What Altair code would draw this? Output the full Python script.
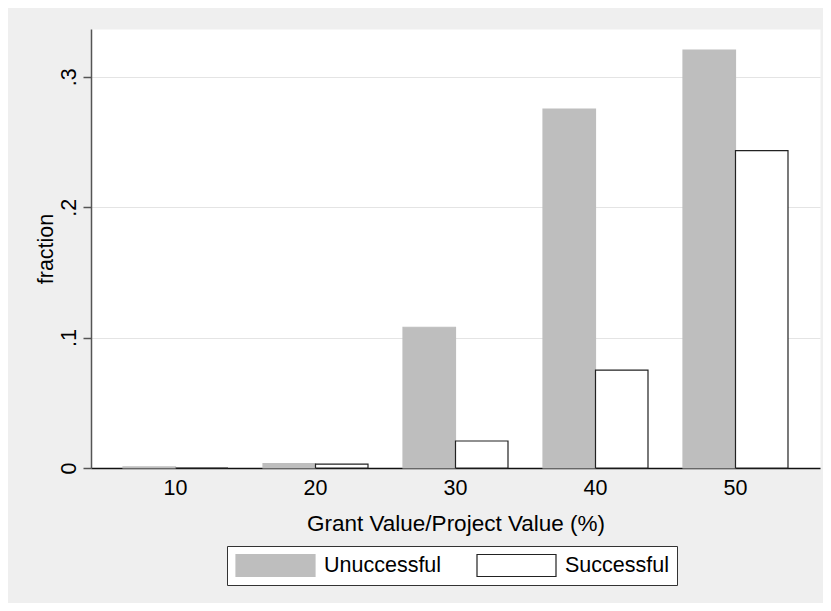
import altair as alt
import pandas as pd

# ---- data ----
categories = ["10", "20", "30", "40", "50"]
groups = ["Unuccessful", "Successful"]
unsuccessful = [0.0008, 0.0033, 0.1079, 0.2752, 0.3205]
successful = [0.0, 0.0030, 0.0207, 0.0751, 0.2433]
y_ticks = [0, 0.1, 0.2, 0.3]

rows = []
for c, u, s in zip(categories, unsuccessful, successful):
    rows.append({"cat": c, "group": groups[0], "value": u})
    rows.append({"cat": c, "group": groups[1], "value": s})
df = pd.DataFrame(rows)

FONT = "Liberation Sans"
FS = 21.5

legend = alt.Legend(
    title=None,
    orient="none",
    legendX=136,
    legendY=517,
    direction="horizontal",
    symbolType="M-1,-0.2785H1V0.2785H-1Z",
    symbolSize=6241,
    symbolStrokeWidth=1.2,
    clipHeight=23,
    labelFont=FONT,
    labelFontSize=FS,
    labelColor="#000000",
    labelOffset=8,
    columnPadding=34,
    padding=8,
    strokeColor="#333333",
    fillColor="#ffffff",
)

chart = alt.Chart(df).mark_bar(strokeWidth=1.2).encode(
    x=alt.X(
        "cat:N",
        sort=categories,
        scale=alt.Scale(paddingInner=0.25, paddingOuter=0.2286),
        axis=alt.Axis(
            title="Grant Value/Project Value (%)",
            labelAngle=0,
            ticks=False,
            tickSize=0,
            domainColor="#111111",
            domainWidth=1.5,
            labelBaseline="alphabetic",
            labelPadding=26,
            labelFont=FONT,
            labelFontSize=FS,
            labelColor="#000000",
            titleFont=FONT,
            titleFontSize=22.5,
            titleFontWeight="normal",
            titleColor="#000000",
            titleBaseline="alphabetic",
            titleY=62,
            grid=False,
        ),
    ),
    xOffset=alt.XOffset(
        "group:N", sort=groups, scale=alt.Scale(paddingInner=0, paddingOuter=0)
    ),
    y=alt.Y(
        "value:Q",
        scale=alt.Scale(domain=[0, 0.3366], nice=False, zero=True),
        axis=alt.Axis(
            title="fraction",
            values=y_ticks,
            labelExpr="datum.value == 0 ? '0' : replace(format(datum.value, '.1f'), '0.', '.')",
            labelAngle=270,
            labelAlign="center",
            labelBaseline="alphabetic",
            labelPadding=8,
            tickSize=8,
            tickColor="#555555",
            tickWidth=1.5,
            domainColor="#555555",
            domainWidth=1.5,
            labelFont=FONT,
            labelFontSize=FS,
            labelColor="#000000",
            titleFont=FONT,
            titleFontSize=FS,
            titleFontWeight="normal",
            titleColor="#000000",
            titleAngle=270,
            titleAlign="center",
            titleBaseline="alphabetic",
            titleX=-39,
            titleY=219.5,
            grid=True,
            gridColor="#e4e4e4",
            gridWidth=1.2,
        ),
    ),
    fill=alt.Fill(
        "group:N",
        sort=groups,
        scale=alt.Scale(domain=groups, range=["#bebebe", "#ffffff"]),
        legend=legend,
    ),
    stroke=alt.Stroke(
        "group:N",
        sort=groups,
        scale=alt.Scale(domain=groups, range=["#bebebe", "#222222"]),
        legend=legend,
    ),
).properties(
    width=729,
    height=439,
    background="#efefef",
    padding={"left": 83, "top": 21, "right": 3, "bottom": 135},
    autosize=alt.AutoSizeParams(type="none"),
).configure_view(fill="#ffffff", stroke="transparent")

chart.save("out.html", embed_options={"renderer": "svg", "actions": False})
